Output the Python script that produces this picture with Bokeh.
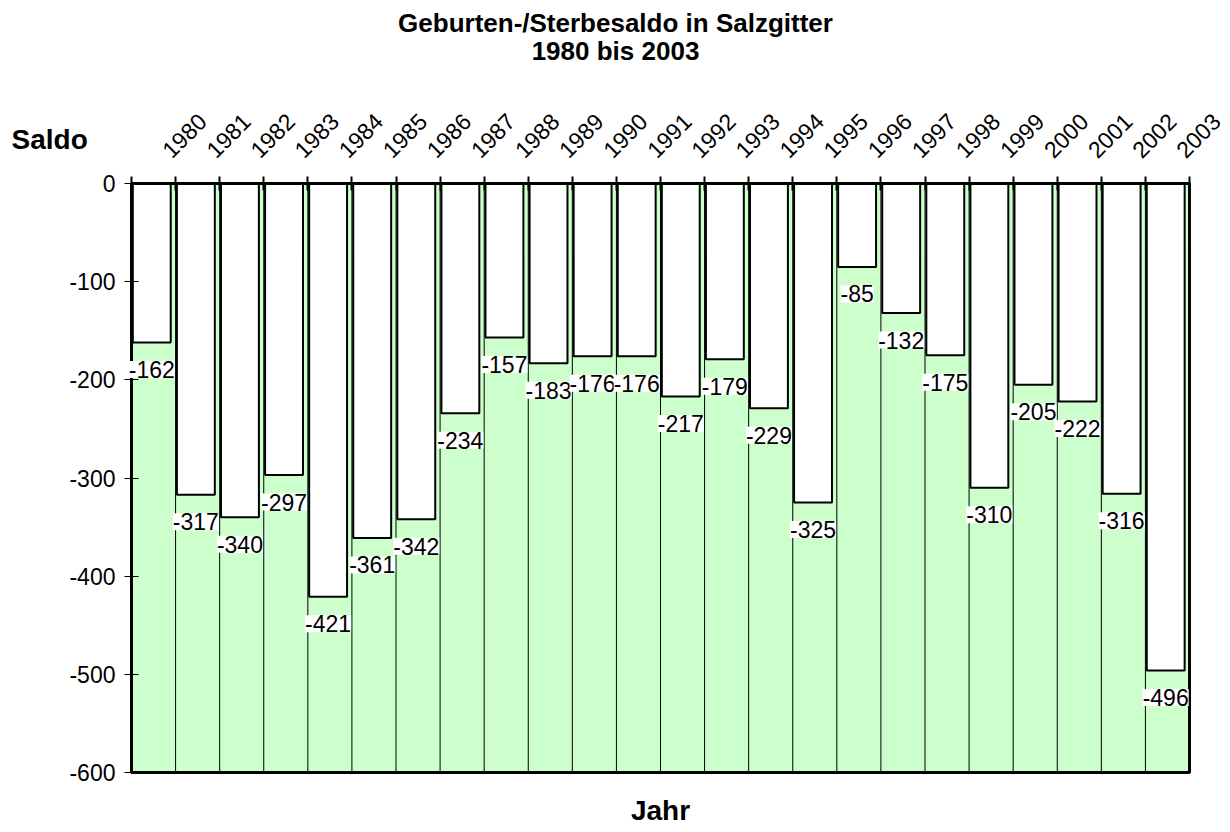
import math
from bokeh.plotting import figure
from bokeh.models import (ColumnDataSource, Range1d, FixedTicker, LabelSet, Label)
from bokeh.core.properties import value
from bokeh.embed import file_html
from bokeh.resources import INLINE

years = [str(y) for y in range(1980, 2004)]
saldo = [-162, -317, -340, -297, -421, -361, -342, -234, -157, -183, -176, -176,
         -217, -179, -229, -325, -85, -132, -175, -310, -205, -222, -316, -496]
y_ticks = [0, -100, -200, -300, -400, -500, -600]
title_lines = ["Geburten-/Sterbesaldo in Salzgitter", "1980 bis 2003"]
y_title = "Saldo"
x_title = "Jahr"

FONT = "Liberation Sans"
n = len(years)
idx = list(range(n))
ymin, ymax = min(y_ticks), max(y_ticks)

# canvas / plot-area layout in pixels
CW, CH = 1226, 828
PL, PR, PT, PB = 131, 1189, 183, 772
sx = (PR - PL) / n
sy = (PB - PT) / (ymax - ymin)
x0 = -PL / sx
x1 = x0 + CW / sx
y1 = ymax + PT / sy
y0 = y1 - CH / sy

bars = ColumnDataSource(dict(
    xc=[i + 0.46 for i in idx],
    val=saldo,
    txt=[str(v) for v in saldo],
))
yr = ColumnDataSource(dict(xb=[i + 1 for i in idx], y0=[0] * n, txt=years))
sep = ColumnDataSource(dict(xb=list(range(1, n)), ya=[ymin] * (n - 1), yb=[ymax] * (n - 1)))
area = ColumnDataSource(dict(l=[0], r=[n], b=[ymin], t=[ymax]))

p = figure(width=CW, height=CH, output_backend="svg", toolbar_location=None,
           title=None, x_range=Range1d(x0, x1), y_range=Range1d(y0, y1),
           x_axis_location="above",
           min_border_left=0, min_border_right=0, min_border_top=0, min_border_bottom=0)

p.background_fill_color = "white"
p.border_fill_color = "white"
p.outline_line_color = None
p.xgrid.visible = False
p.ygrid.visible = False

# plot area (green) with black border
p.quad(left="l", right="r", bottom="b", top="t", source=area,
       fill_color="#CCFFCC", line_color="black", line_width=3)
# category separators
p.segment(x0="xb", y0="ya", x1="xb", y1="yb", source=sep, line_color="black", line_width=1)

# top axis (zero line with tick marks)
xa = p.xaxis[0]
xa.fixed_location = 0
xa.bounds = (0, n)
xa.ticker = FixedTicker(ticks=list(range(0, n + 1)))
xa.major_label_overrides = {i: "" for i in range(0, n + 1)}
xa.axis_line_width = 3
xa.axis_line_color = "black"
xa.major_tick_in = 7
xa.major_tick_out = 7
xa.major_tick_line_width = 2
xa.major_tick_line_color = "black"
xa.minor_tick_line_color = None

ya = p.yaxis[0]
ya.fixed_location = 0
ya.bounds = (ymin, ymax)
ya.ticker = FixedTicker(ticks=y_ticks)
ya.major_label_overrides = {v: str(v) for v in y_ticks}
ya.axis_line_width = 3
ya.axis_line_color = "black"
ya.major_tick_in = 7
ya.major_tick_out = 7
ya.major_tick_line_width = 1
ya.major_tick_line_color = "black"
ya.minor_tick_line_color = None
ya.major_label_standoff = 9
ya.major_label_text_font = FONT
ya.major_label_text_font_size = "23px"
ya.major_label_text_color = "black"

p.vbar(x="xc", width=0.86, top=0, bottom="val", source=bars,
       fill_color="white", line_color="black", line_width=2)

pad_kw = {"padding": 2} if "padding" in LabelSet.properties() else {}
vals = LabelSet(x="xc", y="val", text="txt", source=bars, y_offset=-27,
                text_align="center", text_baseline="middle",
                text_font=value(FONT), text_font_size=value("23px"), text_color="black",
                background_fill_color="white", **pad_kw)
p.add_layout(vals)

yl = LabelSet(x="xb", y="y0", text="txt", source=yr, x_offset=-3.5, y_offset=24,
              angle=math.pi / 4, text_align="left", text_baseline="alphabetic",
              text_font=value(FONT), text_font_size=value("23px"), text_color="black")
p.add_layout(yl)

mid = n / 2
p.add_layout(Label(x=mid, y=ymax, x_offset=-45, y_offset=161, text=title_lines[0],
                   text_align="center", text_baseline="middle", text_font=FONT,
                   text_font_size="26px", text_font_style="bold", text_color="black"))
p.add_layout(Label(x=mid, y=ymax, x_offset=-45, y_offset=133, text=title_lines[1],
                   text_align="center", text_baseline="middle", text_font=FONT,
                   text_font_size="26px", text_font_style="bold", text_color="black"))
p.add_layout(Label(x=0, y=ymax, x_offset=-120, y_offset=44, text=y_title,
                   text_align="left", text_baseline="middle", text_font=FONT,
                   text_font_size="28px", text_font_style="bold", text_color="black"))
p.add_layout(Label(x=mid, y=ymin, y_offset=-38, text=x_title,
                   text_align="center", text_baseline="middle", text_font=FONT,
                   text_font_size="28px", text_font_style="bold", text_color="black"))

open("out.html", "w").write(file_html(p, INLINE))
